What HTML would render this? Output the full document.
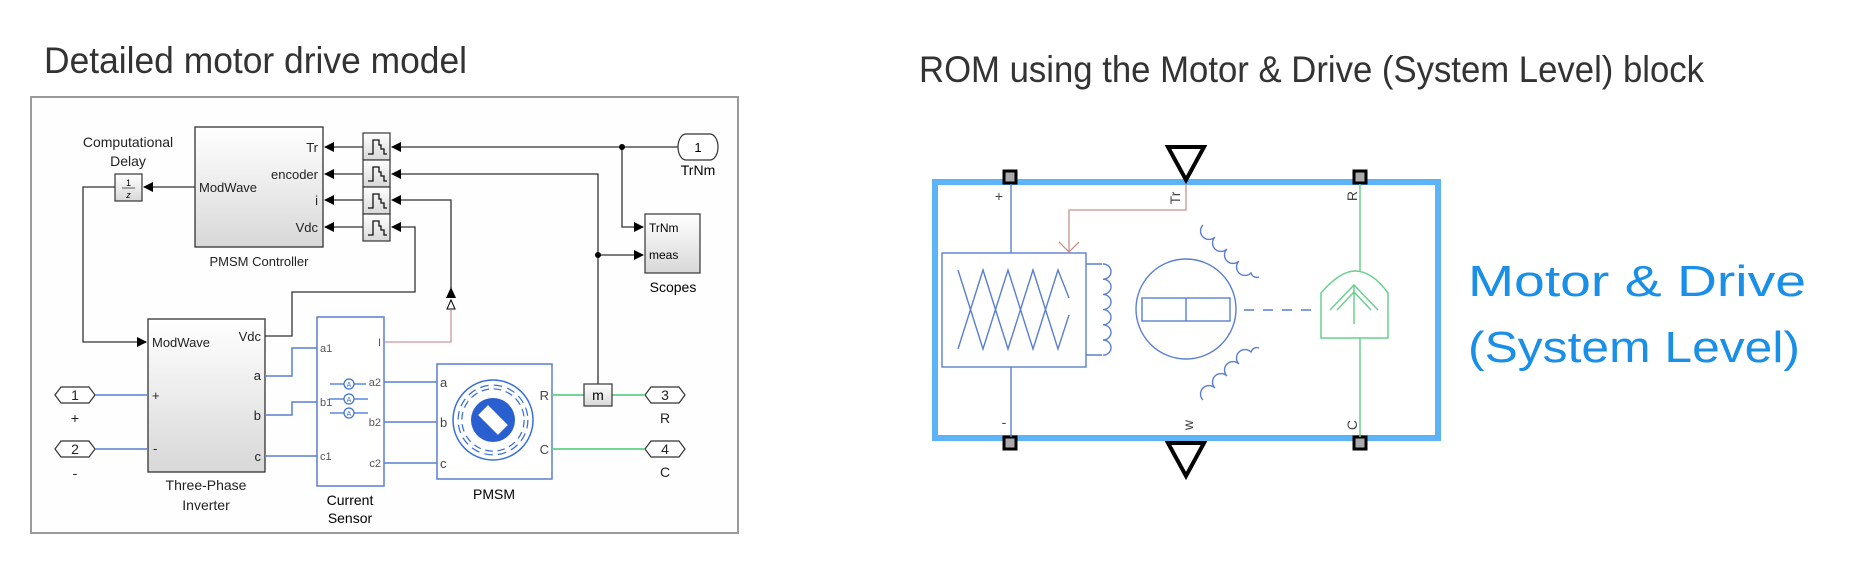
<!DOCTYPE html>
<html><head><meta charset="utf-8"><style>
html,body{margin:0;padding:0;background:#fff;}
svg{display:block;}
.t{font-family:"Liberation Sans",sans-serif;}
</style></head><body>
<svg width="1856" height="585" viewBox="0 0 1856 585" xmlns="http://www.w3.org/2000/svg">
<defs>
<linearGradient id="g" x1="0" y1="0" x2="0" y2="1"><stop offset="0" stop-color="#ffffff"/><stop offset="1" stop-color="#d8d8d8"/></linearGradient>
<marker id="ar" markerWidth="10" markerHeight="10" refX="9" refY="5" orient="auto" markerUnits="userSpaceOnUse"><path d="M0,0 L10,5 L0,10 z" fill="#000"/></marker>
</defs>
<rect width="1856" height="585" fill="#fff"/>
<text class="t" x="44" y="73" font-size="37" fill="#333" textLength="423" lengthAdjust="spacingAndGlyphs">Detailed motor drive model</text>
<text class="t" x="919" y="82" font-size="37" fill="#333" textLength="785" lengthAdjust="spacingAndGlyphs">ROM using the Motor &amp; Drive (System Level) block</text>

<!-- LEFT FRAME -->
<rect x="31" y="97" width="707" height="436" fill="#fefefe" stroke="#9a9a9a" stroke-width="2"/>

<g class="t" font-size="14" fill="#222">
<text x="128" y="147" text-anchor="middle">Computational</text>
<text x="128" y="166" text-anchor="middle">Delay</text>
</g>
<rect x="115" y="174" width="27" height="27" fill="url(#g)" stroke="#333" stroke-width="1.2"/>
<text class="t" x="128.5" y="186" font-size="9" text-anchor="middle">1</text>
<line x1="122" y1="188" x2="135" y2="188" stroke="#333" stroke-width="0.8"/>
<text class="t" x="128.5" y="198" font-size="9" text-anchor="middle" font-style="italic">z</text>

<!-- Controller -->
<rect x="195" y="127" width="128" height="120" fill="url(#g)" stroke="#333" stroke-width="1.3"/>
<g class="t" font-size="13" fill="#222">
<text x="199" y="192">ModWave</text>
<text x="318" y="152" text-anchor="end">Tr</text>
<text x="318" y="179" text-anchor="end">encoder</text>
<text x="318" y="205" text-anchor="end">i</text>
<text x="318" y="232" text-anchor="end">Vdc</text>
<text x="259" y="266" text-anchor="middle">PMSM Controller</text>
</g>
<!-- ZOH blocks -->
<g stroke="#333" stroke-width="1.2" fill="url(#g)">
<rect x="363" y="133" width="27" height="27"/><rect x="363" y="160" width="27" height="27"/>
<rect x="363" y="187" width="27" height="27"/><rect x="363" y="214" width="27" height="27"/>
</g>
<g fill="none" stroke="#111" stroke-width="1.3">
<path d="M368,154 h5 v-14 h6 v5 h2 v4 h3 v5 h3"/>
<path d="M368,181 h5 v-14 h6 v5 h2 v4 h3 v5 h3"/>
<path d="M368,208 h5 v-14 h6 v5 h2 v4 h3 v5 h3"/>
<path d="M368,235 h5 v-14 h6 v5 h2 v4 h3 v5 h3"/>
</g>
<!-- signal lines -->
<g fill="none" stroke="#333" stroke-width="1.3">
<line x1="363" y1="147" x2="325" y2="147" marker-end="url(#ar)"/>
<line x1="363" y1="174" x2="325" y2="174" marker-end="url(#ar)"/>
<line x1="363" y1="200" x2="325" y2="200" marker-end="url(#ar)"/>
<line x1="363" y1="227" x2="325" y2="227" marker-end="url(#ar)"/>
<line x1="678" y1="147" x2="392" y2="147" marker-end="url(#ar)"/>
<polyline points="598,384 598,174 392,174" marker-end="url(#ar)"/>
<polyline points="451,288 451,200 392,200" marker-end="url(#ar)"/>
<polyline points="265,336 292,336 292,292 415,292 415,227 392,227" marker-end="url(#ar)"/>
<line x1="195" y1="187" x2="144" y2="187" marker-end="url(#ar)"/>
<polyline points="115,187 83,187 83,342 146,342" marker-end="url(#ar)"/>
<polyline points="622,147 622,227 643,227" marker-end="url(#ar)"/>
<polyline points="598,255 643,255" marker-end="url(#ar)"/>
</g>
<circle cx="622" cy="147" r="3" fill="#000"/>
<circle cx="598" cy="255" r="3" fill="#000"/>
<!-- i arrows -->
<path d="M451,287 l-5,11 h10 z" fill="#000"/>
<path d="M451,300 l-4,9 h8 z" fill="#fff" stroke="#000" stroke-width="1"/>
<polyline points="385,342 451,342 451,310" fill="none" stroke="#c99" stroke-width="1.3"/>

<!-- TrNm inport & scopes -->
<path d="M686,134 h24 a8,13 0 0 1 0,26 h-24 a8,13 0 0 1 0,-26 z" fill="#fff" stroke="#333" stroke-width="1.2"/>
<text class="t" x="698" y="152" font-size="13" text-anchor="middle">1</text>
<text class="t" x="698" y="175" font-size="14" text-anchor="middle">TrNm</text>
<rect x="645" y="214" width="55" height="59" fill="url(#g)" stroke="#333" stroke-width="1.2"/>
<text class="t" x="649" y="232" font-size="12">TrNm</text>
<text class="t" x="649" y="259" font-size="12">meas</text>
<text class="t" x="673" y="292" font-size="14" text-anchor="middle">Scopes</text>

<!-- Inverter -->
<rect x="148" y="319" width="117" height="153" fill="url(#g)" stroke="#333" stroke-width="1.3"/>
<g class="t" font-size="13" fill="#222">
<text x="152" y="347">ModWave</text>
<text x="261" y="341" text-anchor="end">Vdc</text>
<text x="261" y="380" text-anchor="end">a</text>
<text x="261" y="420" text-anchor="end">b</text>
<text x="261" y="461" text-anchor="end">c</text>
<text x="152" y="400">+</text>
<text x="153" y="453">-</text>
<text x="206" y="490" text-anchor="middle" font-size="14">Three-Phase</text>
<text x="206" y="510" text-anchor="middle" font-size="14">Inverter</text>
</g>
<!-- inports 1,2 -->
<g fill="#fff" stroke="#333" stroke-width="1.2">
<path d="M55,395 l6,-8 h28 l6,8 l-6,8 h-28 z"/>
<path d="M55,449 l6,-8 h28 l6,8 l-6,8 h-28 z"/>
<path d="M645,395 l6,-8 h28 l6,8 l-6,8 h-28 z"/>
<path d="M645,449 l6,-8 h28 l6,8 l-6,8 h-28 z"/>
</g>
<g class="t" font-size="14" text-anchor="middle" fill="#222">
<text x="75" y="400">1</text><text x="75" y="423">+</text>
<text x="75" y="454">2</text><text x="75" y="478">-</text>
<text x="665" y="400">3</text><text x="665" y="423">R</text>
<text x="665" y="454">4</text><text x="665" y="477">C</text>
</g>
<!-- blue physical connections -->
<g fill="none" stroke="#5a7fd0" stroke-width="1.5">
<line x1="95" y1="395" x2="148" y2="395"/>
<line x1="95" y1="449" x2="148" y2="449"/>
<polyline points="265,376 292,376 292,348 317,348"/>
<polyline points="265,415 292,415 292,402 317,402"/>
<line x1="265" y1="456" x2="317" y2="456"/>
<line x1="384" y1="382" x2="437" y2="382"/>
<line x1="384" y1="422" x2="437" y2="422"/>
<line x1="384" y1="463" x2="437" y2="463"/>
</g>
<!-- Current sensor -->
<rect x="317" y="317" width="67" height="169" fill="#fff" stroke="#5a7fd0" stroke-width="1.5"/>
<g class="t" font-size="11" fill="#555">
<text x="320" y="352">a1</text><text x="320" y="406">b1</text><text x="320" y="460">c1</text>
<text x="381" y="386" text-anchor="end">a2</text><text x="381" y="426" text-anchor="end">b2</text><text x="381" y="467" text-anchor="end">c2</text>
<text x="381" y="346" text-anchor="end">I</text>
</g>
<g stroke="#3a6fd8" stroke-width="1.2" fill="#fff">
<line x1="330" y1="384" x2="366" y2="384"/><line x1="330" y1="399" x2="368" y2="399"/><line x1="330" y1="413" x2="368" y2="413"/>
<circle cx="349" cy="384" r="5"/><circle cx="349" cy="399" r="5"/><circle cx="349" cy="413" r="5"/>
</g>
<g class="t" font-size="7" fill="#3a6fd8" text-anchor="middle"><text x="349" y="387">A</text><text x="349" y="402">A</text><text x="349" y="416">A</text></g>
<text class="t" x="350" y="505" font-size="14" text-anchor="middle">Current</text>
<text class="t" x="350" y="523" font-size="14" text-anchor="middle">Sensor</text>

<!-- PMSM -->
<rect x="437" y="364" width="115" height="115" fill="#fff" stroke="#5a7fd0" stroke-width="1.5"/>
<g class="t" font-size="13" fill="#444">
<text x="440" y="387">a</text><text x="440" y="427">b</text><text x="440" y="468">c</text>
<text x="549" y="400" text-anchor="end">R</text><text x="549" y="454" text-anchor="end">C</text>
</g>
<circle cx="493" cy="420" r="40" fill="none" stroke="#3a6fd8" stroke-width="1.5"/>
<circle cx="493" cy="420" r="33" fill="none" stroke="#3a6fd8" stroke-width="5" stroke-dasharray="8 5"/>
<circle cx="493" cy="420" r="33" fill="none" stroke="#fff" stroke-width="2.5" stroke-dasharray="8 5"/>
<circle cx="493" cy="420" r="22" fill="#2a5fd0"/>
<rect x="479" y="413" width="28" height="14" fill="#fff" transform="rotate(45 493 420)"/>
<text class="t" x="494" y="499" font-size="14" text-anchor="middle">PMSM</text>
<!-- green lines & m -->
<g stroke="#5fd08a" stroke-width="1.8" fill="none">
<line x1="552" y1="395" x2="584" y2="395"/><line x1="612" y1="395" x2="645" y2="395"/>
<line x1="552" y1="449" x2="645" y2="449"/>
</g>
<rect x="584" y="384" width="28" height="22" fill="url(#g)" stroke="#333" stroke-width="1.2"/>
<text class="t" x="598" y="400" font-size="14" text-anchor="middle">m</text>

<!-- RIGHT BLOCK -->
<rect x="935" y="182" width="503" height="256" fill="#fff" stroke="#5cb3f5" stroke-width="6"/>
<!-- ports -->
<g fill="#aaa" stroke="#000" stroke-width="3">
<rect x="1004" y="171" width="12" height="12"/><rect x="1354" y="171" width="12" height="12"/>
<rect x="1004" y="437" width="12" height="12"/><rect x="1354" y="437" width="12" height="12"/>
</g>
<path d="M1168,147 h36 l-18,33 z" fill="#fff" stroke="#000" stroke-width="4"/>
<path d="M1168,443 h36 l-18,33 z" fill="#fff" stroke="#000" stroke-width="4"/>
<g class="t" font-size="14" fill="#444">
<text x="999" y="201" text-anchor="middle">+</text>
<text x="1004" y="427" text-anchor="middle">-</text>
<text transform="translate(1180,198) rotate(-90)" text-anchor="middle">Tr</text>
<text transform="translate(1357,196) rotate(-90)" text-anchor="middle">R</text>
<text transform="translate(1357,425) rotate(-90)" text-anchor="middle">C</text>
<text transform="translate(1193,425) rotate(-90)" text-anchor="middle">w</text>
</g>
<!-- converter -->
<g fill="none" stroke="#5a7fd0" stroke-width="1.4">
<line x1="1011" y1="184" x2="1011" y2="253"/><line x1="1011" y1="367" x2="1011" y2="437"/>
<rect x="942" y="253" width="144" height="114"/>
<path d="M958,270 L983,349 L1008,270 L1033,349 L1058,270 L1069,298"/>
<path d="M958,349 L983,270 L1008,349 L1033,270 L1058,349 L1069,315"/>
<path d="M958,277 L981,316 L958,352" opacity="0"/>
<path d="M1086,264 h16 M1086,355 h16"/>
<path d="M1103,264 a8,7.6 0 0 1 0,15.2 a8,7.6 0 0 1 0,15.2 a8,7.6 0 0 1 0,15.2 a8,7.6 0 0 1 0,15.2 a8,7.6 0 0 1 0,15.2 a8,7.6 0 0 1 0,15.2"/>
<circle cx="1186" cy="309" r="50"/>
<rect x="1142" y="298" width="88" height="23"/><line x1="1186" y1="298" x2="1186" y2="321"/>
<line x1="1244" y1="310" x2="1314" y2="310" stroke-dasharray="10 9"/>
<path d="M1203,225 a8,8 0 0 0 12,12 a8,8 0 0 0 12,12 a8,8 0 0 0 12,12 a8,8 0 0 0 12,12 a6,6 0 0 0 8,4"/>
<path d="M1203,400 a8,8 0 0 1 12,-12 a8,8 0 0 1 12,-12 a8,8 0 0 1 12,-12 a8,8 0 0 1 12,-12 a6,6 0 0 1 8,-4"/>
</g>
<polyline points="1186,184 1186,210 1069,210 1069,252" fill="none" stroke="#c9928a" stroke-width="1.3"/>
<polyline points="1059,242 1069,252 1079,242" fill="none" stroke="#c9928a" stroke-width="1.3"/>
<!-- sensor -->
<g fill="none" stroke="#6ccf90" stroke-width="1.5">
<line x1="1360" y1="184" x2="1360" y2="271"/><line x1="1360" y1="338" x2="1360" y2="437"/>
<path d="M1321,338 V293 Q1340,271 1355,271 Q1372,271 1388,293 V338 Z"/>
<line x1="1354" y1="285" x2="1354" y2="324"/>
<polyline points="1330,310 1354,285 1378,310"/>
<polyline points="1337,310 1354,292 1371,310"/>
</g>
<text class="t" x="1468" y="296" font-size="44" fill="#1a8fe8" textLength="338" lengthAdjust="spacingAndGlyphs">Motor &amp; Drive</text>
<text class="t" x="1468" y="362" font-size="44" fill="#1a8fe8" textLength="332" lengthAdjust="spacingAndGlyphs">(System Level)</text>
</svg>
</body></html>
